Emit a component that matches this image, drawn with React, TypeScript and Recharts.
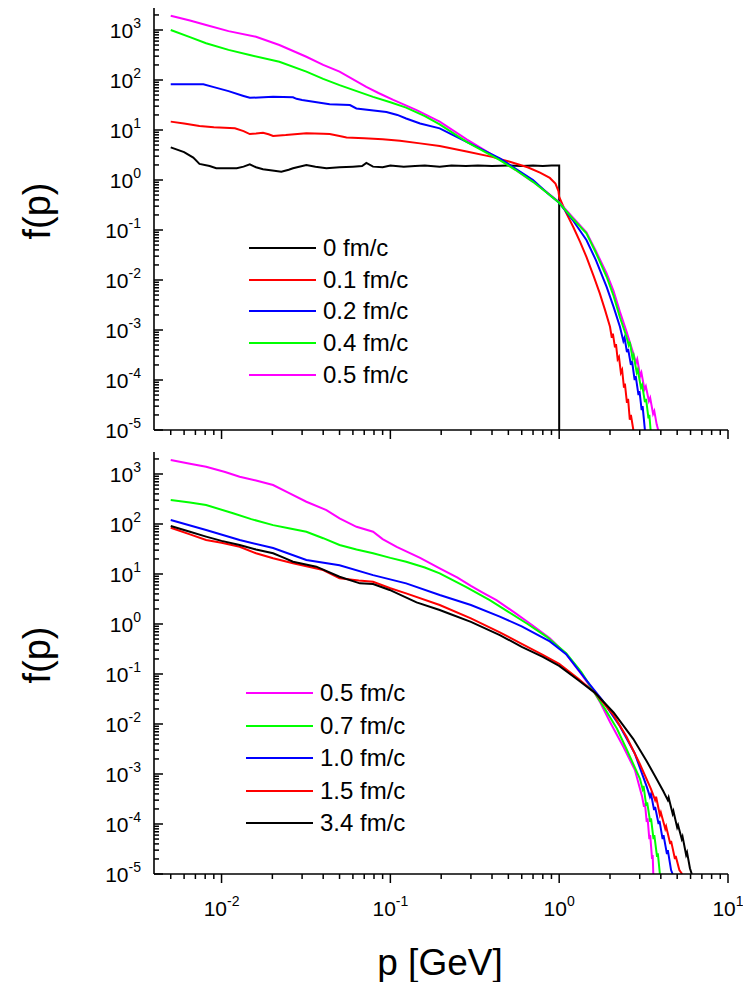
import React from 'react';
import { LineChart, Line, XAxis, YAxis, Legend } from 'recharts';

type Pt = { p: number; f: number };
const mk = (rows: number[][]): Pt[] => rows.map(([p, f]) => ({ p, f }));

// ---------- upper panel: t = 0 ... 0.5 fm/c ----------
const TOP_0_0 = mk([
  [0.005, 4.5], [0.006, 3.6], [0.0068, 2.8], [0.0074, 2.1], [0.0085, 1.9], [0.0093, 1.72], [0.0123, 1.72],
  [0.0135, 1.85], [0.0147, 2.05], [0.016, 1.8], [0.0176, 1.64], [0.02, 1.55], [0.0226, 1.47], [0.025, 1.6],
  [0.0265, 1.72], [0.0318, 2.0], [0.036, 1.85], [0.0418, 1.72], [0.05, 1.8], [0.06, 1.85], [0.068, 1.9],
  [0.0721, 2.2], [0.0789, 1.85], [0.09, 1.8], [0.1, 1.95], [0.12, 1.85], [0.14, 1.9], [0.16, 1.95],
  [0.196, 1.85], [0.23, 1.95], [0.28, 1.9], [0.33, 1.95], [0.4, 1.9], [0.5, 1.95], [0.6, 1.9], [0.7, 1.95],
  [0.8, 1.9], [0.9, 1.95], [1.0, 1.95], [1.0, 1e-5],
]);
const TOP_0_1 = mk([
  [0.005, 14.7], [0.006, 13.5], [0.0074, 12], [0.009, 11.3], [0.012, 10.8], [0.0135, 9.5], [0.0147, 8.3],
  [0.016, 8.5], [0.0176, 8.8], [0.019, 8.2], [0.0202, 7.6], [0.024, 7.9], [0.0318, 8.6], [0.04, 8.4],
  [0.0437, 8.3], [0.05, 7.6], [0.055, 7.1], [0.07, 6.8], [0.09, 6.5], [0.114, 6.1], [0.15, 5.4],
  [0.196, 4.8], [0.283, 3.7], [0.4, 2.9], [0.51, 2.32], [0.65, 1.8], [0.77, 1.4], [0.88, 1.1], [0.95, 0.85],
  [0.99, 0.6], [1.0, 0.46], [1.1, 0.22], [1.21, 0.116], [1.33, 0.058], [1.45, 0.029], [1.6, 0.012],
  [1.74, 0.0054], [1.87, 0.0025], [2.0, 1.16e-3], [2.05, 7e-4], [2.08, 8.5e-4], [2.14, 4.5e-4],
  [2.17, 5.2e-4], [2.22, 2.6e-4], [2.26, 2.9e-4], [2.32, 1.4e-4], [2.36, 1.6e-4], [2.42, 7e-5],
  [2.45, 8.5e-5], [2.52, 3.5e-5], [2.56, 4.2e-5], [2.62, 1.6e-5], [2.66, 2e-5], [2.75, 1e-5],
]);
const TOP_0_2 = mk([
  [0.005, 82], [0.0078, 82], [0.009, 72], [0.011, 60], [0.0135, 48], [0.0147, 44], [0.0202, 46],
  [0.0265, 45], [0.0278, 42], [0.03, 40], [0.0437, 32.7], [0.0576, 31.6], [0.0629, 27], [0.0948, 23],
  [0.11, 20], [0.124, 17], [0.15, 13.5], [0.196, 10.8], [0.283, 5.8], [0.445, 2.7], [0.55, 1.7],
  [0.7, 1.0], [0.85, 0.55], [1.0, 0.35], [1.2, 0.16], [1.45, 0.063], [1.65, 0.025], [1.91, 0.0073],
  [2.1, 0.0029], [2.29, 1.16e-3], [2.4, 6e-4], [2.44, 7e-4], [2.52, 3.6e-4], [2.56, 4.2e-4],
  [2.66, 2e-4], [2.7, 2.4e-4], [2.8, 1e-4], [2.84, 1.2e-4], [2.95, 5e-5], [2.99, 6e-5], [3.08, 2.5e-5],
  [3.12, 3e-5], [3.22, 1e-5],
]);
const TOP_0_4 = mk([
  [0.005, 1000], [0.0065, 720], [0.0081, 542], [0.011, 400], [0.0147, 316], [0.022, 232], [0.0318, 147],
  [0.04, 105], [0.05, 79], [0.065, 58], [0.079, 46], [0.1, 36], [0.124, 28], [0.16, 19], [0.196, 13],
  [0.283, 5.8], [0.445, 2.5], [0.55, 1.6], [0.7, 0.92], [0.85, 0.55], [1.0, 0.35], [1.2, 0.17],
  [1.45, 0.086], [1.65, 0.035], [1.91, 0.0116], [2.1, 0.0048], [2.29, 0.0018], [2.5, 7.5e-4],
  [2.58, 5e-4], [2.62, 5.8e-4], [2.72, 2.7e-4], [2.76, 3.1e-4], [2.88, 1.4e-4], [2.92, 1.6e-4],
  [3.05, 7e-5], [3.1, 8e-5], [3.22, 3.6e-5], [3.27, 4.2e-5], [3.38, 1.7e-5], [3.42, 2e-5], [3.48, 1e-5],
]);
const TOP_0_5 = mk([
  [0.005, 1930], [0.0065, 1550], [0.0081, 1260], [0.011, 950], [0.016, 735], [0.022, 500], [0.0318, 292],
  [0.04, 200], [0.05, 147], [0.072, 73], [0.085, 55], [0.104, 40], [0.143, 25], [0.196, 14.7],
  [0.283, 6.5], [0.445, 2.6], [0.55, 1.6], [0.7, 0.92], [0.85, 0.56], [1.0, 0.36], [1.2, 0.18],
  [1.45, 0.09], [1.65, 0.038], [1.91, 0.0135], [2.1, 0.006], [2.29, 0.0023], [2.5, 9.5e-4],
  [2.75, 3.4e-4], [2.85, 2.2e-4], [2.9, 2.6e-4], [3.02, 1.2e-4], [3.07, 1.4e-4], [3.2, 6.5e-5],
  [3.26, 7.5e-5], [3.4, 3.8e-5], [3.46, 4.4e-5], [3.6, 2.1e-5], [3.66, 2.4e-5], [3.78, 1.3e-5],
  [3.86, 1e-5],
]);

// ---------- lower panel: t = 0.5 ... 3.4 fm/c ----------
const BOT_0_5 = mk([
  [0.005, 1905], [0.0065, 1600], [0.0081, 1400], [0.0105, 1100], [0.0128, 883], [0.016, 740],
  [0.0202, 603], [0.025, 420], [0.0318, 279], [0.0418, 190], [0.05, 130], [0.063, 88], [0.079, 70],
  [0.09, 50], [0.109, 35], [0.15, 21], [0.196, 13], [0.25, 8.5], [0.3, 5.8], [0.35, 4.3], [0.425, 3.0],
  [0.55, 1.65], [0.7, 0.92], [0.88, 0.52], [1.1, 0.25], [1.35, 0.1], [1.6, 0.045], [1.74, 0.028],
  [2.0, 0.011], [2.4, 0.0035], [2.81, 0.0012], [3.1, 3.5e-4], [3.18, 2.2e-4], [3.22, 2.6e-4],
  [3.3, 1.1e-4], [3.34, 1.3e-4], [3.42, 5e-5], [3.46, 6e-5], [3.55, 2e-5], [3.58, 2.4e-5], [3.61, 1e-5],
]);
const BOT_0_7 = mk([
  [0.005, 302], [0.0065, 270], [0.0081, 240], [0.0117, 164], [0.015, 125], [0.0202, 95], [0.025, 82],
  [0.0318, 70], [0.04, 52], [0.05, 38], [0.063, 31], [0.079, 26], [0.1, 21], [0.124, 17.6], [0.16, 13.5],
  [0.196, 10.3], [0.28, 5.5], [0.388, 3.0], [0.5, 1.75], [0.65, 1.0], [0.84, 0.56], [1.1, 0.26],
  [1.35, 0.11], [1.6, 0.045], [1.87, 0.02], [2.2, 0.008], [2.5, 0.0032], [3.01, 8e-4], [3.12, 5e-4],
  [3.16, 5.8e-4], [3.28, 2.3e-4], [3.32, 2.7e-4], [3.46, 1.1e-4], [3.5, 1.3e-4], [3.62, 5e-5],
  [3.66, 6e-5], [3.8, 2.2e-5], [3.84, 2.6e-5], [3.95, 1e-5],
]);
const BOT_1_0 = mk([
  [0.005, 120], [0.0081, 76], [0.0128, 48], [0.0202, 33], [0.0318, 19], [0.05, 15], [0.079, 9.5],
  [0.124, 6.5], [0.196, 3.8], [0.3, 2.4], [0.445, 1.4], [0.6, 0.9], [0.88, 0.45], [1.1, 0.25],
  [1.45, 0.075], [1.8, 0.03], [2.29, 0.009], [2.8, 0.0026], [3.3, 5.6e-4], [3.45, 3.5e-4], [3.5, 4e-4],
  [3.65, 1.9e-4], [3.7, 2.2e-4], [3.88, 1e-4], [3.93, 1.15e-4], [4.1, 5e-5], [4.15, 6e-5],
  [4.35, 2.5e-5], [4.4, 3e-5], [4.6, 1.2e-5], [4.7, 1e-5],
]);
const BOT_1_5 = mk([
  [0.005, 84], [0.0065, 62], [0.0081, 48], [0.01, 42], [0.0128, 35], [0.016, 26], [0.0202, 20.6],
  [0.0265, 16.4], [0.04, 12], [0.05, 8.2], [0.065, 7.4], [0.079, 7.0], [0.1, 5.2], [0.124, 4.1],
  [0.196, 2.4], [0.3, 1.3], [0.445, 0.68], [0.6, 0.4], [0.8, 0.24], [1.0, 0.16], [1.3, 0.08],
  [1.63, 0.042], [2.1, 0.015], [2.51, 0.0055], [3.0, 0.0016], [3.5, 5e-4], [3.7, 3e-4], [3.75, 3.5e-4],
  [3.95, 1.5e-4], [4.0, 1.7e-4], [4.25, 8e-5], [4.3, 9e-5], [4.55, 4e-5], [4.6, 4.6e-5], [4.85, 2e-5],
  [4.9, 2.3e-5], [5.15, 1.2e-5], [5.35, 1e-5],
]);
const BOT_3_4 = mk([
  [0.005, 91], [0.0065, 70], [0.0081, 56], [0.01, 46], [0.0128, 38], [0.016, 31], [0.0202, 26],
  [0.0235, 21], [0.0265, 17.6], [0.0364, 14], [0.05, 8.8], [0.066, 6.5], [0.079, 6.3], [0.099, 4.8],
  [0.143, 2.7], [0.196, 1.9], [0.224, 1.6], [0.3, 1.1], [0.445, 0.6], [0.6, 0.35], [0.8, 0.22],
  [1.0, 0.145], [1.3, 0.075], [1.63, 0.042], [2.1, 0.017], [2.75, 0.005], [3.3, 0.0018], [3.7, 9e-4],
  [4.14, 4.5e-4], [4.4, 3e-4], [4.45, 3.4e-4], [4.7, 1.6e-4], [4.75, 1.8e-4], [5.0, 8.5e-5],
  [5.06, 9.5e-5], [5.32, 5e-5], [5.38, 5.6e-5], [5.65, 2.4e-5], [5.72, 2.7e-5], [5.95, 1.3e-5],
  [6.1, 1e-5],
]);

const TOP_LABELS = ['0 fm/c', '0.1 fm/c', '0.2 fm/c', '0.4 fm/c', '0.5 fm/c'];
const TOP_COLORS = ['#000000', '#ff0000', '#0000ff', '#00ff00', '#ff00ff'];
const TOP_SERIES = [TOP_0_0, TOP_0_1, TOP_0_2, TOP_0_4, TOP_0_5];
const TOP_DRAW_ORDER = [0, 1, 4, 2, 3];

const BOT_LABELS = ['0.5 fm/c', '0.7 fm/c', '1.0 fm/c', '1.5 fm/c', '3.4 fm/c'];
const BOT_COLORS = ['#ff00ff', '#00ff00', '#0000ff', '#ff0000', '#000000'];
const BOT_SERIES = [BOT_0_5, BOT_0_7, BOT_1_0, BOT_1_5, BOT_3_4];

const X_DOMAIN = [0.00398, 10];
const Y_DOMAIN = [1e-5, 2754];
const X_DECADES = [-3, -2, -1, 0, 1];
const Y_DECADES = [-5, -4, -3, -2, -1, 0, 1, 2, 3];

const buildTicks = (decades: number[], lo: number, hi: number) => {
  const out: number[] = [];
  decades.forEach((e) => {
    for (let m = 1; m <= 9; m++) {
      const v = m * Math.pow(10, e);
      if (v >= lo * 0.999 && v <= hi * 1.001) out.push(v);
    }
  });
  return out;
};
const X_TICKS = buildTicks(X_DECADES, 0.0045, X_DOMAIN[1]);
const Y_TICKS = buildTicks(Y_DECADES, Y_DOMAIN[0], Y_DOMAIN[1]);

const FONT = '"Liberation Sans", Arial, sans-serif';
const isMajor = (v: number) => Math.abs(Math.log10(v) - Math.round(Math.log10(v))) < 1e-6;
const expOf = (v: number) => Math.round(Math.log10(v));
const AX = { stroke: '#000', strokeWidth: 1.6 };

const XTick = (props: any) => {
  const { x, y, payload, label } = props;
  const v = payload.value;
  const major = isMajor(v);
  const len = major ? 9 : 5;
  return (
    <g>
      <line x1={x} x2={x} y1={y} y2={y + len} stroke="#000" strokeWidth={1.5} />
      {label && major && (
        <text x={x} y={y + 42} textAnchor="middle" fontSize={21} fontFamily={FONT} fill="#000">
          10<tspan dy={-10} fontSize={14}>{String(expOf(v))}</tspan>
        </text>
      )}
    </g>
  );
};

const YTick = (props: any) => {
  const { x, y, payload, label, dir } = props;
  const v = payload.value;
  const major = isMajor(v);
  const len = major ? 9 : 5;
  return (
    <g>
      <line x1={x} x2={x + dir * len} y1={y} y2={y} stroke="#000" strokeWidth={1.5} />
      {label && major && (
        <text x={x - 13} y={y + 8} textAnchor="end" fontSize={21} fontFamily={FONT} fill="#000">
          10<tspan dy={-10} fontSize={14}>{String(expOf(v))}</tspan>
        </text>
      )}
    </g>
  );
};

const makeLegend = (labels: string[], colors: string[], gap: number) => () => (
  <div style={{ fontFamily: FONT, fontSize: 24, color: '#000' }}>
    {labels.map((l, i) => (
      <div key={l} style={{ display: 'flex', alignItems: 'center', height: gap }}>
        <svg width={67} height={4} style={{ display: 'block' }}>
          <line x1={0} x2={67} y1={2} y2={2} stroke={colors[i]} strokeWidth={2} />
        </svg>
        <span style={{ marginLeft: 7, whiteSpace: 'pre', lineHeight: '24px' }}>{l}</span>
      </div>
    ))}
  </div>
);

const Panel = ({ series, colors, labels, order, xLabels, height, bottomAxisH, legendPos, gap }: any) => (
  <LineChart width={743} height={height} margin={{ top: 8, right: 15, left: 0, bottom: 0 }}>
    <XAxis xAxisId="b" dataKey="p" type="number" scale="log" domain={X_DOMAIN} allowDataOverflow
      ticks={X_TICKS} interval={0} height={bottomAxisH} tickSize={0} tickMargin={0} tickLine={false}
      axisLine={AX} tick={(p: any) => <XTick {...p} label={xLabels} />} />
    <XAxis xAxisId="t" orientation="top" dataKey="p" type="number" scale="log" domain={X_DOMAIN} allowDataOverflow
      ticks={X_TICKS} interval={0} height={0} tickSize={0} tickMargin={0} tickLine={false}
      axisLine={AX} tick={(p: any) => <XTick {...p} label={false} />} />
    <YAxis yAxisId="l" type="number" scale="log" domain={Y_DOMAIN} allowDataOverflow ticks={Y_TICKS}
      interval={0} width={154} tickSize={0} tickMargin={0} tickLine={false} axisLine={AX}
      tick={(p: any) => <YTick {...p} label dir={1} />} />
    <YAxis yAxisId="r" orientation="right" type="number" scale="log" domain={Y_DOMAIN} allowDataOverflow
      ticks={Y_TICKS} interval={0} width={0} tickSize={0} tickMargin={0} tickLine={false} axisLine={AX}
      tick={(p: any) => <YTick {...p} label={false} dir={-1} />} />
    {order.map((i: number) => (
      <Line key={labels[i]} xAxisId="b" yAxisId="l" data={series[i]} dataKey="f" name={labels[i]}
        stroke={colors[i]} strokeWidth={2} dot={false} isAnimationActive={false} type="linear" />
    ))}
    <Legend layout="vertical" align="center" verticalAlign="middle" content={makeLegend(labels, colors, gap)}
      wrapperStyle={{ left: legendPos[0], top: legendPos[1], width: 220 }} />
  </LineChart>
);

export default function App() {
  return (
    <div style={{ position: 'absolute', left: 0, top: 0, width: 743, height: 982, background: '#fff' }}>
      <div style={{ position: 'absolute', left: 0, top: 0 }}>
        <Panel series={TOP_SERIES} colors={TOP_COLORS} labels={TOP_LABELS} order={TOP_DRAW_ORDER}
          xLabels={false} height={452} bottomAxisH={22} legendPos={[249, 232]} gap={31.7} />
      </div>
      <div style={{ position: 'absolute', left: 0, top: 444 }}>
        <Panel series={BOT_SERIES} colors={BOT_COLORS} labels={BOT_LABELS} order={[0, 1, 2, 3, 4]}
          xLabels height={538} bottomAxisH={108} legendPos={[246, 233]} gap={32.5} />
      </div>
      <svg width={743} height={982} style={{ position: 'absolute', left: 0, top: 0, pointerEvents: 'none' }}>
        <text x={0} y={0} transform="translate(50,211) rotate(-90)" textAnchor="middle" fontSize={38} fontFamily={FONT}>f(p)</text>
        <text x={0} y={0} transform="translate(50,655) rotate(-90)" textAnchor="middle" fontSize={38} fontFamily={FONT}>f(p)</text>
        <text x={440} y={975} textAnchor="middle" fontSize={37} fontFamily={FONT}>p [GeV]</text>
      </svg>
    </div>
  );
}
